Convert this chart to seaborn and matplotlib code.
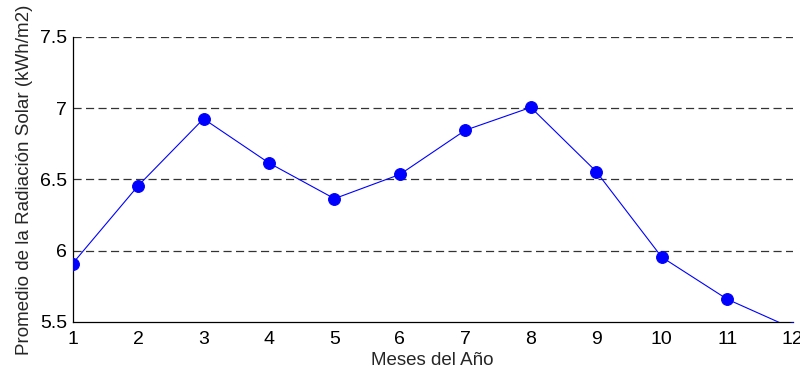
import matplotlib
matplotlib.use("Agg")
import matplotlib.pyplot as plt
import seaborn as sns
import pandas as pd

meses = [1, 2, 3, 4, 5, 6, 7, 8, 9, 10, 11, 12]
radiacion = [5.91, 6.455, 6.925, 6.615, 6.365, 6.535, 6.845, 7.005, 6.555, 5.955, 5.66, 5.455]
yticks = [5.5, 6, 6.5, 7, 7.5]

sns.set_style("white")
plt.rcParams['font.family'] = ['Liberation Sans', 'DejaVu Sans']

df = pd.DataFrame({"mes": meses, "rad": radiacion})

fig = plt.figure(figsize=(8, 3.68), dpi=100)
ax = fig.add_axes([0.0908, 0.125, 0.9, 0.775])

for y in yticks[1:]:
    ax.axhline(y, color='#333333', linestyle=(0, (6.5, 3.5)), linewidth=0.9, zorder=1)

sns.lineplot(data=df, x="mes", y="rad", ax=ax, color='#0000ff', linewidth=0.8,
             marker='o', markersize=8.5, markeredgecolor='#0000ff',
             markerfacecolor='#0000ff', zorder=3)

ax.set_xlim(1, 12)
ax.set_ylim(5.5, 7.5)
ax.set_xticks(meses)
ax.set_xticklabels([str(m) for m in meses])
ax.set_yticks(yticks)
ax.set_yticklabels(['5.5', '6', '6.5', '7', '7.5'])
ax.tick_params(axis='both', direction='in', length=5.5, width=0.8, labelsize=14,
               colors='black')
ax.tick_params(axis='x', pad=6.5)
ax.tick_params(axis='y', pad=4)
for s in ['top', 'right']:
    ax.spines[s].set_visible(False)
for s in ['left', 'bottom']:
    ax.spines[s].set_color('black')
    ax.spines[s].set_linewidth(0.9)

ax.set_xlabel("Meses del Año", fontsize=13.5, labelpad=3)
ax.set_ylabel("Promedio de la Radiación Solar (kWh/m2)", fontsize=13.5, labelpad=5)

fig.savefig("out.png", dpi=100)
